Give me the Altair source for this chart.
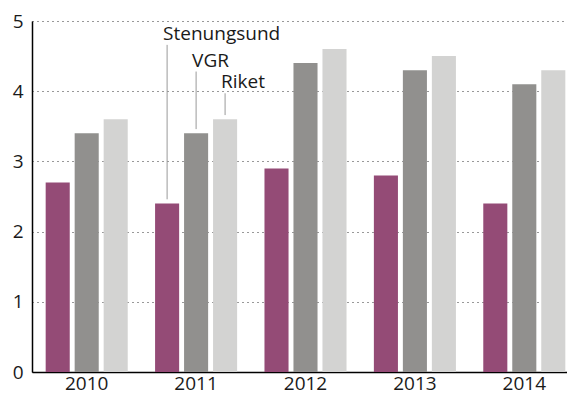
import altair as alt
import pandas as pd

years = ["2010", "2011", "2012", "2013", "2014"]
series = ["Stenungsund", "VGR", "Riket"]
stenungsund = [2.7, 2.4, 2.9, 2.8, 2.4]
vgr = [3.4, 3.4, 4.4, 4.3, 4.1]
riket = [3.6, 3.6, 4.6, 4.5, 4.3]
colors = ["#944b76", "#91908e", "#d3d3d2"]

# annotation: labels placed over the 2011 group
ann_year = "2011"
ann_label_level = [4.73, 4.35, 4.04]

FONT = "Open Sans"

rows = []
for name, vals in zip(series, [stenungsund, vgr, riket]):
    for y, v in zip(years, vals):
        rows.append({"year": y, "series": name, "value": v})
df = pd.DataFrame(rows)

ann_rows = []
for name, lvl in zip(series, ann_label_level):
    v = df[(df.year == ann_year) & (df.series == name)].value.iloc[0]
    ann_rows.append({"year": ann_year, "series": name, "label": name,
                     "level": lvl, "top": lvl - 0.07, "bottom": v + 0.06})
ann = pd.DataFrame(ann_rows)

W = 535
H = 351

x_enc = alt.X("year:N", sort=years,
              scale=alt.Scale(paddingInner=0.25, paddingOuter=0.125, range=[0, 547]),
              axis=alt.Axis(title=None, labelAngle=0, ticks=False, labelPadding=17,
                            labelBaseline="alphabetic",
                            labelFontSize=19, labelFont=FONT, labelColor="#1a1a1a",
                            domainColor="#000000", domainWidth=1.5))
xo_enc = alt.XOffset("series:N", sort=series,
                     scale=alt.Scale(domain=series, paddingInner=0.17, paddingOuter=0))

bars = alt.Chart(df).mark_bar().encode(
    x=x_enc,
    xOffset=xo_enc,
    y=alt.Y("value:Q", scale=alt.Scale(domain=[0, 5], nice=False),
            axis=alt.Axis(title=None, values=[0, 1, 2, 3, 4, 5], format="d",
                          grid=True, gridDash=[1, 4], gridColor="#333333", gridWidth=1,
                          ticks=False, labelPadding=9, labelFontSize=19, labelFont=FONT,
                          labelColor="#1a1a1a", domainColor="#000000", domainWidth=1.5)),
    color=alt.Color("series:N", sort=series,
                    scale=alt.Scale(domain=series, range=colors), legend=None),
)

rules = alt.Chart(ann).mark_rule(color="#999999", strokeWidth=1).encode(
    x=alt.X("year:N", sort=years),
    xOffset=alt.XOffset("series:N", sort=series),
    y=alt.Y("top:Q"),
    y2=alt.Y2("bottom:Q"),
)

texts = alt.Chart(ann).mark_text(align="left", baseline="alphabetic", dx=-4,
                                 fontSize=19, font=FONT, color="#1a1a1a").encode(
    x=alt.X("year:N", sort=years),
    xOffset=alt.XOffset("series:N", sort=series),
    y=alt.Y("level:Q"),
    text="label:N",
)

chart = alt.layer(bars, rules, texts).properties(
    width=W, height=H,
    autosize=alt.AutoSizeParams(type="none"),
    padding={"left": 24, "top": 13, "right": 0, "bottom": 23},
).configure_view(stroke=None)

chart.save("out.html", embed_options={"renderer": "svg", "actions": False})
